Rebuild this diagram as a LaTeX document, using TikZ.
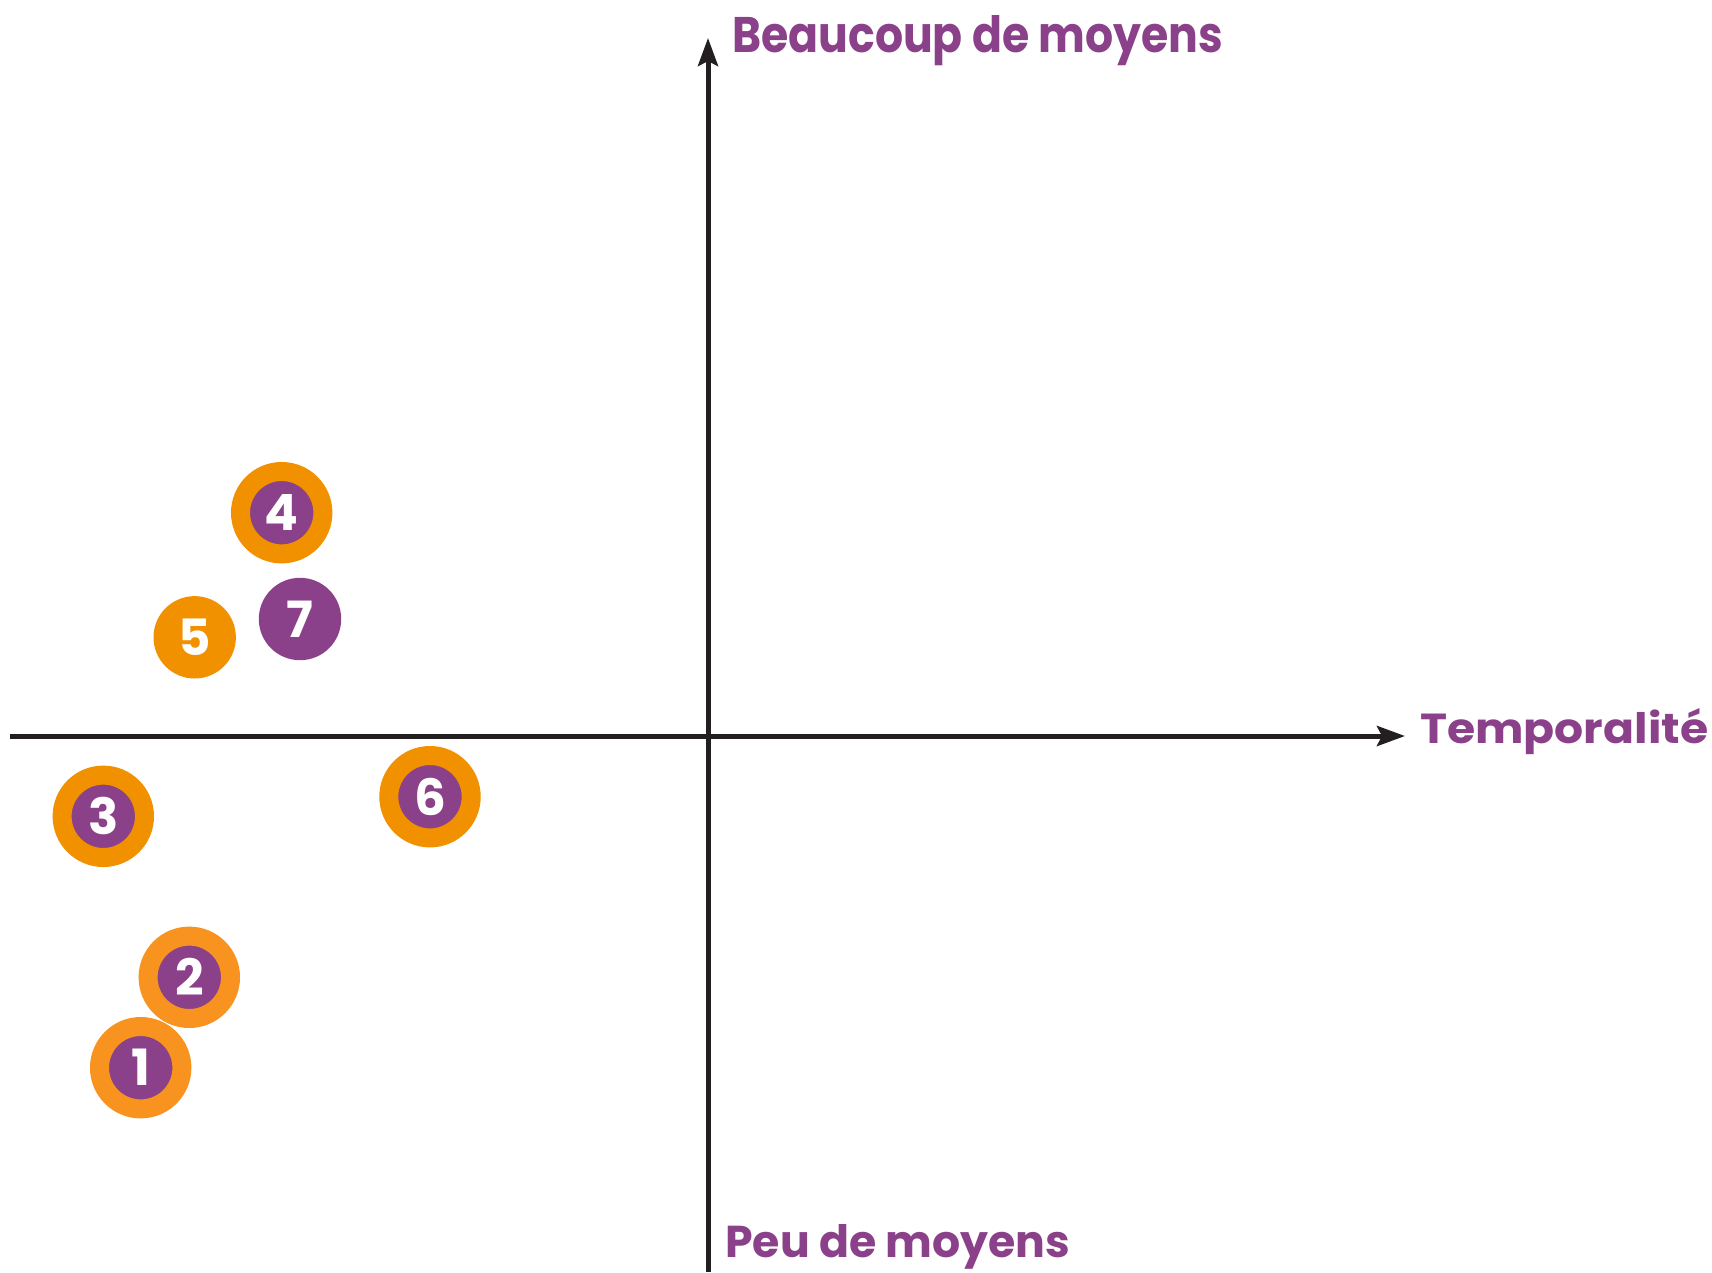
\documentclass[tikz,border=0pt]{standalone}
\usepackage{fontspec}
\newfontfamily\hand{Poppins}
\usetikzlibrary{arrows.meta}
\definecolor{plum}{HTML}{8A4189}
\definecolor{orA}{HTML}{F29100}
\definecolor{orB}{HTML}{F7931E}
\definecolor{axisc}{HTML}{231F20}
\begin{document}
\begin{tikzpicture}[x=1pt,y=-1pt,
  axisline/.style={draw=axisc,line width=5pt,-{Stealth[length=28pt,width=20pt,inset=5pt]}},
  lbl/.style={text=plum,inner sep=0pt,anchor=base west,font=\hand\bfseries},
  digit/.style={text=white,font=\hand\bfseries\fontsize{50}{50}\selectfont,inner sep=0pt,circle,minimum size=82.4pt},
  ringA/.style={digit,fill=plum,draw=orA,line width=19pt},
  ringB/.style={digit,fill=plum,draw=orB,line width=19pt},
  solidO/.style={digit,fill=orA},
  solidP/.style={digit,fill=plum}]
\useasboundingbox[fill=white] (0,0) rectangle (1712,1272);
\coordinate (xs) at (10,736);
\coordinate (xe) at (1405,736);
\coordinate (ys) at (708,1272);
\coordinate (ye) at (708,38);
\draw[axisline] (xs) -- (xe);
\draw[axisline] (ys) -- (ye);
\node[lbl] (top) at (732,52) {\resizebox{491pt}{37pt}{Beaucoup de moyens}};
\node[lbl] (right) at (1420,743) {\resizebox{288pt}{35pt}{Temporalité}};
\node[lbl] (bottom) at (725,1257) {\resizebox{345pt}{33pt}{Peu de moyens}};
\node[ringB] (n1) at (140.7,1067.7) {1};
\node[ringB] (n2) at (189.3,977.3) {2};
\node[ringA] (n3) at (103.3,816.3) {3};
\node[ringA] (n4) at (281.7,512.7) {4};
\node[solidO] (n5) at (194.7,637.3) {5};
\node[ringA] (n6) at (430,796.7) {6};
\node[solidP] (n7) at (300,619) {7};
\end{tikzpicture}
\end{document}
